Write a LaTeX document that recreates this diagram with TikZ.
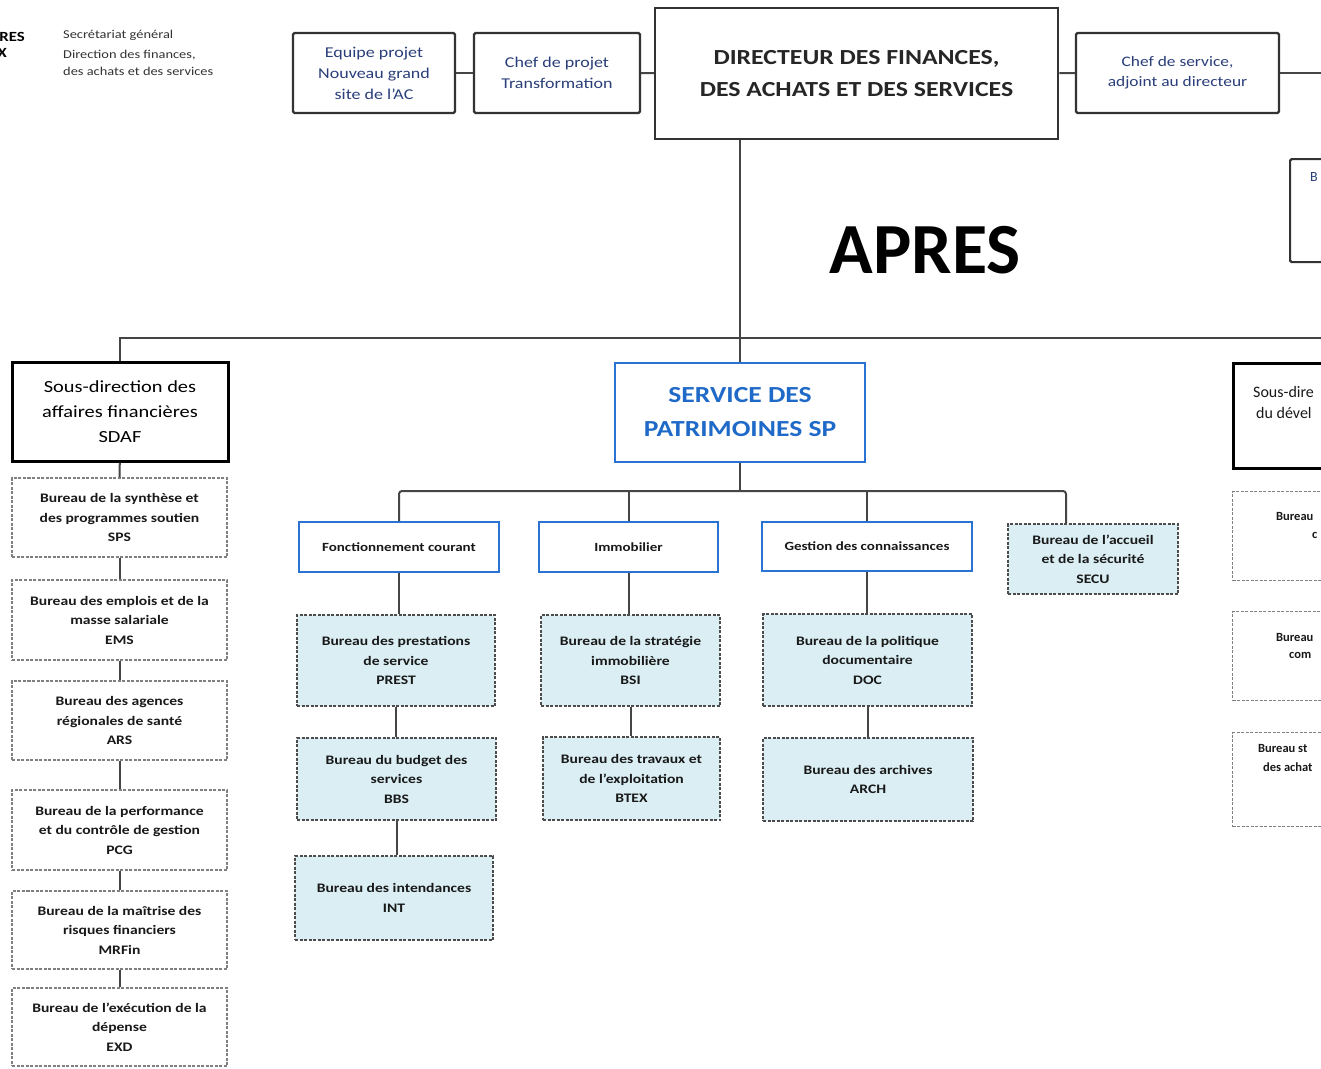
\documentclass[tikz,border=0pt]{standalone}
\usepackage{fontspec}
\setmainfont{Carlito}[FakeStretch=1.2]
\newfontfamily\apresfont{Carlito}
\definecolor{lb}{HTML}{DAEEF3}
\definecolor{bl}{HTML}{2B73D3}
\definecolor{spc}{HTML}{1F6AC8}
\definecolor{navy}{HTML}{2A3F7A}
\definecolor{ln}{HTML}{454545}
\begin{document}
\begin{tikzpicture}[x=1pt,y=-1pt,
  topbox/.style={draw=black!80, line width=2.2pt, rounded corners=1.5pt, fill=white, inner sep=0pt, align=center, text=navy, font=\fontsize{15}{21}\selectfont},
  dirbox/.style={draw=black!80, line width=2.5pt, fill=white, inner sep=0pt, align=center, text=black!85, font=\bfseries\fontsize{21.5}{32}\selectfont},
  sdbox/.style={draw=black, line width=3pt, fill=white, inner sep=0pt, align=center, font=\fontsize{17}{25}\selectfont},
  bur/.style={draw=black!50, dash pattern=on 3pt off 1.5pt, line width=1.2pt, fill=white, inner sep=0pt, align=center, text=black!90, font=\bfseries\fontsize{13}{19.5}\selectfont},
  burb/.style={bur, fill=lb, draw=black!70, line width=1.6pt},
  lvl/.style={draw=bl, line width=2pt, fill=white, inner sep=0pt, align=center, text=black!90, font=\bfseries\fontsize{12.5}{15}\selectfont},
  spbox/.style={draw=bl, line width=2.2pt, fill=white, inner sep=0pt, align=center, text=spc, font=\bfseries\fontsize{23}{34}\selectfont},
  conn/.style={draw=ln, line width=2pt},
  frag/.style={inner sep=0pt, anchor=west, text=black!90, font=\apresfont\bfseries\fontsize{12.5}{15}\selectfont},
  hdr/.style={inner sep=0pt, anchor=west, text=black!80, font=\fontsize{12}{14}\selectfont}
]
\useasboundingbox (0,0) rectangle (1321,1068);
\clip (0,0) rectangle (1321,1068);
\fill[white] (0,0) rectangle (1321,1068);

% header
\node[inner sep=0pt, anchor=east, font=\bfseries\fontsize{14}{17}\selectfont] (h1) at (25,37) {RES};
\node[inner sep=0pt, anchor=east, font=\bfseries\fontsize{14}{17}\selectfont] (h2) at (7,53) {X};
\node[hdr] (h3) at (63,35) {Secrétariat général};
\node[hdr] (h4) at (63,55) {Direction des finances,};
\node[hdr] (h5) at (63,71) {des achats et des services};

% top row
\node[topbox, minimum width=162, minimum height=80] (eq) at (374,73) {Equipe projet\\Nouveau grand\\site de l'AC};
\node[topbox, minimum width=166, minimum height=80] (cp) at (557,73) {Chef de projet\\Transformation};
\node[dirbox, minimum width=403, minimum height=131] (dir) at (856.5,73.5) {DIRECTEUR DES FINANCES,\\DES ACHATS ET DES SERVICES};
\node[topbox, minimum width=203, minimum height=80, font=\fontsize{14.5}{20}\selectfont] (cs) at (1177.5,73) {Chef de service,\\adjoint au directeur};
\node[topbox, minimum width=120, minimum height=103, anchor=north west] (bx) at (1289,158) {};
\node[frag, text=navy, font=\apresfont\fontsize{14}{16}\selectfont] (bxt) at (1310,177) {B};
\coordinate (csR) at (1330,73);
\draw[conn] (eq) -- (cp);
\draw[conn] (cp) -- (dir);
\draw[conn] (dir) -- (cs);
\draw[conn] (cs) -- (csR);

\node[inner sep=0pt, font=\apresfont\bfseries\fontsize{72}{72}\selectfont] (apres) at (925,250) {APRES};

% main level
\node[sdbox, minimum width=216, minimum height=99] (sdaf) at (120,411.5) {Sous-direction des\\affaires financières\\SDAF};
\node[spbox, minimum width=250, minimum height=99] (sp) at (740,412.5) {SERVICE DES\\PATRIMOINES SP};
\node[sdbox, minimum width=150, minimum height=105, anchor=north west] (rsd) at (1232,362) {};
\node[frag, font=\apresfont\fontsize{16}{19}\selectfont] (rsd1) at (1253,392) {Sous-dire};
\node[frag, font=\apresfont\fontsize{16}{19}\selectfont] (rsd2) at (1256,413) {du dével};
\coordinate (barR) at (1330,338);
\draw[conn] (sp.north |- dir.south) -- (sp.north);
\draw[conn] (sdaf.north) |- (barR);

% SDAF column
\node[bur, minimum width=215, minimum height=79] (sps) at (119.5,517.5) {Bureau de la synthèse et\\des programmes soutien\\SPS};
\node[bur, minimum width=215, minimum height=80] (ems) at (119.5,620) {Bureau des emplois et de la\\masse salariale\\EMS};
\node[bur, minimum width=215, minimum height=79] (ars) at (119.5,720.5) {Bureau des agences\\régionales de santé\\ARS};
\node[bur, minimum width=215, minimum height=80] (pcg) at (119.5,830) {Bureau de la performance\\et du contrôle de gestion\\PCG};
\node[bur, minimum width=215, minimum height=78] (mrf) at (119.5,930) {Bureau de la maîtrise des\\risques financiers\\MRFin};
\node[bur, minimum width=215, minimum height=78] (exd) at (119.5,1027) {Bureau de l'exécution de la\\dépense\\EXD};
\draw[conn] (sdaf) -- (sps);
\draw[conn] (sps) -- (ems);
\draw[conn] (ems) -- (ars);
\draw[conn] (ars) -- (pcg);
\draw[conn] (pcg) -- (mrf);
\draw[conn] (mrf) -- (exd);

% SP sub-level
\node[lvl, minimum width=200, minimum height=50] (fc) at (399,547) {Fonctionnement courant};
\node[lvl, minimum width=179, minimum height=50] (im) at (628.5,547) {Immobilier};
\node[lvl, minimum width=210, minimum height=49] (gc) at (867,546.5) {Gestion des connaissances};
\node[burb, minimum width=170, minimum height=70] (secu) at (1093,559) {Bureau de l'accueil\\et de la sécurité\\SECU};
\coordinate (hub) at (740,491);
\coordinate (sx) at (1066,491);
\draw[conn] (sp.south) -- (hub);
\draw[conn, rounded corners=3pt] (fc.north) |- (hub) -| (sx |- secu.north);
\draw[conn] (im.north |- hub) -- (im.north);
\draw[conn] (gc.north |- hub) -- (gc.north);

\node[burb, minimum width=198, minimum height=91] (prest) at (396,660.5) {Bureau des prestations\\de service\\PREST};
\node[burb, minimum width=199, minimum height=82] (bbs) at (396.5,779) {Bureau du budget des\\services\\BBS};
\node[burb, minimum width=198, minimum height=84] (int) at (394,898) {Bureau des intendances\\INT};
\node[burb, minimum width=179, minimum height=91] (bsi) at (630.5,660.5) {Bureau de la stratégie\\immobilière\\BSI};
\node[burb, minimum width=177, minimum height=83] (btex) at (631.5,778.5) {Bureau des travaux et\\de l'exploitation\\BTEX};
\node[burb, minimum width=209, minimum height=92] (doc) at (867.5,660) {Bureau de la politique\\documentaire\\DOC};
\node[burb, minimum width=210, minimum height=83] (arch) at (868,779.5) {Bureau des archives\\ARCH};
\draw[conn] (fc.south) -- (fc.south |- prest.north);
\draw[conn] (prest.south) -- (prest.south |- bbs.north);
\draw[conn] (bbs.south) -- (bbs.south |- int.north);
\draw[conn] (im.south) -- (im.south |- bsi.north);
\draw[conn] (bsi.south) -- (bsi.south |- btex.north);
\draw[conn] (gc.south) -- (gc.south |- doc.north);
\draw[conn] (doc.south) -- (doc.south |- arch.north);

% right column (cut off)
\node[bur, minimum width=150, minimum height=89, anchor=north west] (rb1) at (1232,491) {};
\node[bur, minimum width=150, minimum height=89, anchor=north west] (rb2) at (1232,611) {};
\node[bur, minimum width=150, minimum height=94, anchor=north west] (rb3) at (1232,732) {};
\node[frag] (rb1a) at (1276,516) {Bureau};
\node[frag] (rb1b) at (1312,535) {c};
\node[frag] (rb2a) at (1276,637) {Bureau};
\node[frag] (rb2b) at (1289,655) {com};
\node[frag] (rb3a) at (1258,748) {Bureau st};
\node[frag] (rb3b) at (1263,767) {des achat};
\end{tikzpicture}
\end{document}
